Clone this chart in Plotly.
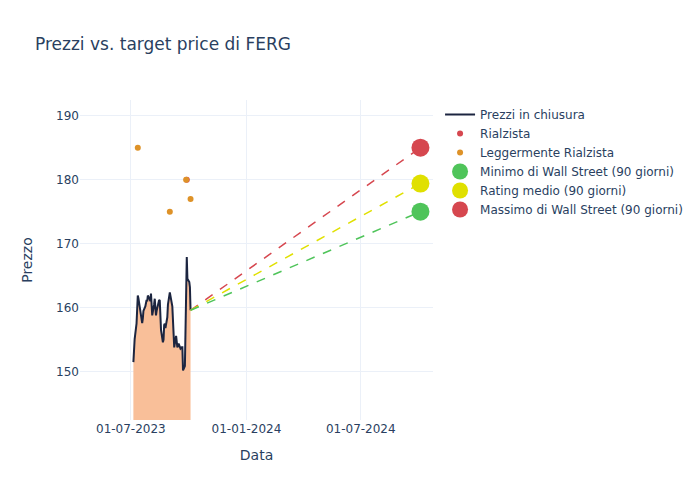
import plotly.graph_objects as go

# Closing prices
dates = [
    "2023-07-05", "2023-07-06", "2023-07-07", "2023-07-10", "2023-07-11", "2023-07-12", "2023-07-13", "2023-07-14",
    "2023-07-17", "2023-07-18", "2023-07-19", "2023-07-20", "2023-07-21", "2023-07-24", "2023-07-25", "2023-07-26",
    "2023-07-27", "2023-07-28", "2023-07-31", "2023-08-01", "2023-08-02", "2023-08-03", "2023-08-04", "2023-08-07",
    "2023-08-08", "2023-08-09", "2023-08-10", "2023-08-11", "2023-08-14", "2023-08-15", "2023-08-16", "2023-08-17",
    "2023-08-18", "2023-08-21", "2023-08-22", "2023-08-23", "2023-08-24", "2023-08-25", "2023-08-28", "2023-08-29",
    "2023-08-30", "2023-08-31", "2023-09-01", "2023-09-05", "2023-09-06", "2023-09-07", "2023-09-08", "2023-09-11",
    "2023-09-12", "2023-09-13", "2023-09-14", "2023-09-15", "2023-09-18", "2023-09-19", "2023-09-20", "2023-09-21",
    "2023-09-22", "2023-09-25", "2023-09-26", "2023-09-27", "2023-09-28", "2023-09-29", "2023-10-02", "2023-10-03",
    "2023-10-04",
]
prices = [
    151.5, 154.9, 155.1, 157.5, 160.0, 161.9, 161.5, 160.9,
    159.5, 158.8, 157.6, 158.3, 159.5, 160.2, 160.7, 161.2,
    161.0, 161.9, 161.3, 161.0, 162.2, 160.5, 158.8, 160.5,
    161.4, 160.0, 158.8, 159.5, 161.1, 161.2, 161.1, 159.0,
    156.5, 154.6, 155.0, 157.3, 157.5, 156.8, 158.5, 160.5,
    161.5, 162.0, 162.4, 160.2, 157.5, 155.5, 153.8, 155.6,
    154.5, 153.8, 154.0, 154.4, 153.6, 153.8, 153.8, 153.8,
    150.2, 150.9, 157.0, 163.0, 167.9, 164.5, 164.0, 163.2,
    159.6,
]

# Analyst ratings
rialz_dates = ["2023-09-28"]
rialz_targets = [180]
legg_dates = ["2023-07-12", "2023-09-01", "2023-09-27", "2023-10-04"]
legg_targets = [185, 175, 180, 177]

# Wall Street targets (90 days)
target_date = "2024-10-04"
start_date = "2023-10-04"
start_price = 159.6
target_min = 175.0
target_avg = 179.4
target_max = 185.0

c_red = "#d6474f"
c_orange = "#de9228"
c_green = "#4fc45a"
c_yellow = "#e0e000"

fig = go.Figure()

# area under the price
fig.add_trace(go.Scatter(
    x=dates, y=prices, mode="lines", line=dict(width=0, color="#f9bf99"),
    fill="tozeroy", fillcolor="#f9bf99", showlegend=False, hoverinfo="skip",
))
fig.add_trace(go.Scatter(
    x=dates, y=prices, mode="lines", name="Prezzi in chiusura",
    line=dict(color="#1c2540", width=2),
))

for val, col in [(target_max, c_red), (target_avg, c_yellow), (target_min, c_green)]:
    fig.add_trace(go.Scatter(
        x=[start_date, target_date], y=[start_price, val], mode="lines",
        line=dict(color=col, dash="dash", width=1.5), showlegend=False, hoverinfo="skip",
    ))

fig.add_trace(go.Scatter(
    x=rialz_dates, y=rialz_targets, mode="markers", name="Rialzista",
    marker=dict(color=c_red, size=6),
))
fig.add_trace(go.Scatter(
    x=legg_dates, y=legg_targets, mode="markers", name="Leggermente Rialzista",
    marker=dict(color=c_orange, size=6),
))
fig.add_trace(go.Scatter(
    x=[target_date], y=[target_min], mode="markers", name="Minimo di Wall Street (90 giorni)",
    marker=dict(color=c_green, size=18),
))
fig.add_trace(go.Scatter(
    x=[target_date], y=[target_avg], mode="markers", name="Rating medio (90 giorni)",
    marker=dict(color=c_yellow, size=18),
))
fig.add_trace(go.Scatter(
    x=[target_date], y=[target_max], mode="markers", name="Massimo di Wall Street (90 giorni)",
    marker=dict(color=c_red, size=18),
))

fig.update_layout(
    template="plotly_white",
    width=700, height=500,
    font=dict(family="DejaVu Sans"),
    margin=dict(l=80, t=100, b=80, r=267),
    title=dict(text="Prezzi vs. target price di FERG", x=0.05, y=0.912, yanchor="middle"),
    legend=dict(x=1.02, y=1, xanchor="left", yanchor="top"),
    xaxis=dict(title="Data", tickformat="%d-%m-%Y", dtick="M6", tick0="2023-07-01",
               range=["2023-04-11", "2024-10-24"], automargin=False),
    yaxis=dict(title=dict(text="Prezzo", standoff=20), range=[142.45, 192.45], automargin=False),
)

fig.write_html("out.html", config={"displayModeBar": False},
               post_script="document.body.style.margin='0';")
